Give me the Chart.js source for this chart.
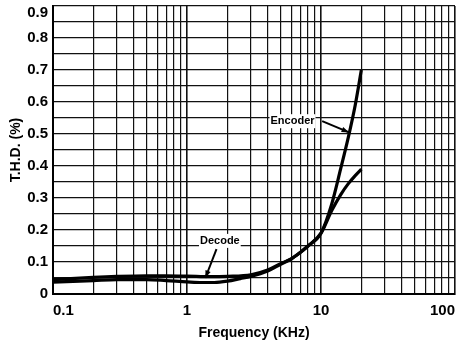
<!DOCTYPE html>
<html>
<head>
<meta charset="utf-8">
<script src="https://cdn.jsdelivr.net/npm/chart.js@4/dist/chart.umd.min.js"></script>
<style>
  html, body { margin: 0; padding: 0; background: #fff; }
  #wrap { width: 458px; height: 342px; }
</style>
</head>
<body>
<div id="wrap"><canvas id="thdChart"></canvas></div>
<script>
// frequency in KHz, THD in %
const encodeFreq = [0.1, 0.2, 0.3, 0.5, 0.7, 1, 1.5, 2, 3, 4, 5, 6, 7, 8, 10, 12, 14, 16, 18, 20];
const encodeThd  = [0.045, 0.052, 0.055, 0.057, 0.057, 0.056, 0.054, 0.055, 0.06, 0.075, 0.095, 0.11, 0.13, 0.15, 0.19, 0.28, 0.39, 0.49, 0.59, 0.70];
const decodeFreq = [0.1, 0.2, 0.3, 0.5, 0.7, 1, 1.3, 1.6, 2, 2.5, 3, 4, 5, 6, 7, 8, 10, 12, 14, 16, 18, 20];
const decodeThd  = [0.037, 0.042, 0.045, 0.045, 0.042, 0.038, 0.036, 0.036, 0.04, 0.048, 0.055, 0.072, 0.093, 0.11, 0.13, 0.15, 0.19, 0.26, 0.31, 0.345, 0.37, 0.39];
const xTickLabels = [0.1, 1, 10, 100];
const yTickLabels = [0, 0.1, 0.2, 0.3, 0.4, 0.5, 0.6, 0.7, 0.8, 0.9];

const toPoints = (xs, ys) => xs.map((x, i) => ({ x: x, y: ys[i] }));

// callout labels with arrows, placed in data coordinates
const callouts = [
    { text: 'Encoder', tx: 4.2, ty: 0.54, fx: 10.2, fy: 0.54, px: 16.2, py: 0.505 },
    { text: 'Decode', tx: 1.25, ty: 0.166, fx: 1.66, fy: 0.14, px: 1.37, py: 0.05 }
];

const calloutPlugin = {
    id: 'callouts',
    afterDatasetsDraw(chart) {
        const ctx = chart.ctx;
        const xs = chart.scales.x, ys = chart.scales.y;
        ctx.save();
        ctx.strokeStyle = '#000';
        ctx.font = 'bold 11px "Liberation Sans", Arial, sans-serif';
        ctx.textBaseline = 'middle';
        callouts.forEach(c => {
            const tx = xs.getPixelForValue(c.tx), ty = ys.getPixelForValue(c.ty);
            const w = ctx.measureText(c.text).width;
            ctx.fillStyle = '#fff';
            ctx.fillRect(tx - 1, ty - 7, w + 2, 14);
            ctx.fillStyle = '#000';
            ctx.fillText(c.text, tx, ty);
            const x1 = xs.getPixelForValue(c.fx), y1 = ys.getPixelForValue(c.fy);
            const x2 = xs.getPixelForValue(c.px), y2 = ys.getPixelForValue(c.py);
            ctx.lineWidth = 2;
            ctx.beginPath();
            ctx.moveTo(x1, y1);
            ctx.lineTo(x2, y2);
            ctx.stroke();
            const a = Math.atan2(y2 - y1, x2 - x1);
            ctx.beginPath();
            ctx.moveTo(x2, y2);
            ctx.lineTo(x2 - 8 * Math.cos(a - 0.35), y2 - 8 * Math.sin(a - 0.35));
            ctx.lineTo(x2 - 8 * Math.cos(a + 0.35), y2 - 8 * Math.sin(a + 0.35));
            ctx.closePath();
            ctx.fill();
        });
        ctx.restore();
    }
};

const tickFont = { family: '"Liberation Sans", Arial, sans-serif', size: 15, weight: 'bold' };
const titleFont = { family: '"Liberation Sans", Arial, sans-serif', size: 14, weight: 'bold' };

const config = {
    type: 'line',
    data: {
        datasets: [{
            label: 'Encoder',
            data: toPoints(encodeFreq, encodeThd),
            borderColor: '#000',
            borderWidth: 3.2,
            pointRadius: 0,
            cubicInterpolationMode: 'monotone'
        }, {
            label: 'Decode',
            data: toPoints(decodeFreq, decodeThd),
            borderColor: '#000',
            borderWidth: 3.2,
            pointRadius: 0,
            cubicInterpolationMode: 'monotone'
        }]
    },
    options: {
        responsive: false,
        animation: false,
        layout: { padding: { top: 6, right: 3, left: 0, bottom: 0 } },
        plugins: {
            legend: { display: false },
            tooltip: { enabled: false }
        },
        scales: {
            x: {
                type: 'logarithmic',
                min: 0.1,
                max: 100,
                afterBuildTicks: (scale) => {
                    const t = [];
                    [0.1, 1, 10].forEach(d => {
                        for (let m = 1; m <= 9; m++) t.push({ value: +(d * m).toPrecision(3) });
                    });
                    t.push({ value: 100 });
                    scale.ticks = t;
                },
                afterFit: (scale) => {
                    scale.height = 48;
                    scale.paddingLeft = 0;
                    scale.paddingRight = 0;
                },
                grid: {
                    color: '#111',
                    lineWidth: (c) => xTickLabels.includes(c.tick && c.tick.value) ? 1.6 : 1.2,
                    drawTicks: false
                },
                border: { color: '#000', width: 2 },
                ticks: {
                    autoSkip: false,
                    maxRotation: 0,
                    align: 'inner',
                    padding: 8,
                    color: '#000',
                    font: tickFont,
                    callback: (v) => xTickLabels.includes(v) ? String(v) : ''
                },
                title: {
                    display: true,
                    text: 'Frequency (KHz)',
                    color: '#000',
                    font: titleFont,
                    padding: { top: 3, bottom: 0 }
                }
            },
            y: {
                min: 0,
                max: 0.9,
                afterBuildTicks: (scale) => {
                    const t = [];
                    for (let i = 0; i <= 18; i++) t.push({ value: +(i * 0.05).toFixed(2) });
                    scale.ticks = t;
                },
                afterFit: (scale) => {
                    scale.width = 53;
                    scale.paddingTop = 0;
                    scale.paddingBottom = 0;
                },
                grid: { color: '#111', lineWidth: 1.2, drawTicks: false },
                border: { color: '#000', width: 2 },
                ticks: {
                    autoSkip: false,
                    padding: 5,
                    color: '#000',
                    // top label sits just under the frame edge, as in the original
                    font: (c) => (c.tick && c.tick.value === 0.9)
                        ? Object.assign({}, tickFont, { lineHeight: 0.9 })
                        : tickFont,
                    callback: (v) => {
                        if (!yTickLabels.includes(v)) return '';
                        return v === 0.9 ? ['', String(v)] : String(v);
                    }
                },
                title: {
                    display: true,
                    text: 'T.H.D. (%)',
                    color: '#000',
                    font: titleFont,
                    padding: { top: 8, bottom: 2 }
                }
            }
        }
    },
    plugins: [calloutPlugin]
};

const canvas = document.getElementById('thdChart');
canvas.width = 458;
canvas.height = 342;
var thdChart = new Chart(canvas, config);
</script>
</body>
</html>
